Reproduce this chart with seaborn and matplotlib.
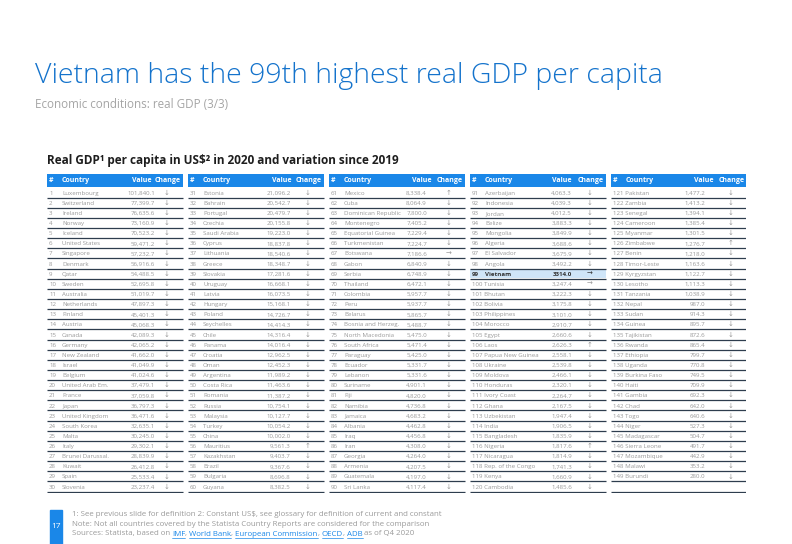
import matplotlib
matplotlib.use("Agg")
import matplotlib.pyplot as plt
from matplotlib.patches import Rectangle
from matplotlib.lines import Line2D
import pandas as pd
import seaborn as sns

# ---- data ----
countries = [
    "Luxembourg", "Switzerland", "Ireland", "Norway", "Iceland", "United States",
    "Singapore", "Denmark", "Qatar", "Sweden", "Australia", "Netherlands",
    "Finland", "Austria", "Canada", "Germany", "New Zealand", "Israel",
    "Belgium", "United Arab Em.", "France", "Japan", "United Kingdom", "South Korea",
    "Malta", "Italy", "Brunei Darussal.", "Kuwait", "Spain", "Slovenia",
    "Estonia", "Bahrain", "Portugal", "Czechia", "Saudi Arabia", "Cyprus",
    "Lithuania", "Greece", "Slovakia", "Uruguay", "Latvia", "Hungary",
    "Poland", "Seychelles", "Chile", "Panama", "Croatia", "Oman",
    "Argentina", "Costa Rica", "Romania", "Russia", "Malaysia", "Turkey",
    "China", "Mauritius", "Kazakhstan", "Brazil", "Bulgaria", "Guyana",
    "Mexico", "Cuba", "Dominican Republic", "Montenegro", "Equatorial Guinea", "Turkmenistan",
    "Botswana", "Gabon", "Serbia", "Thailand", "Colombia", "Peru",
    "Belarus", "Bosnia and Herzeg.", "North Macedonia", "South Africa", "Paraguay", "Ecuador",
    "Lebanon", "Suriname", "Fiji", "Namibia", "Jamaica", "Albania",
    "Iraq", "Iran", "Georgia", "Armenia", "Guatemala", "Sri Lanka",
    "Azerbaijan", "Indonesia", "Jordan", "Belize", "Mongolia", "Algeria",
    "El Salvador", "Angola", "Vietnam", "Tunisia", "Bhutan", "Bolivia",
    "Philippines", "Morocco", "Egypt", "Laos", "Papua New Guinea", "Ukraine",
    "Moldova", "Honduras", "Ivory Coast", "Ghana", "Uzbekistan", "India",
    "Bangladesh", "Nigeria", "Nicaragua", "Rep. of the Congo", "Kenya", "Cambodia",
    "Pakistan", "Zambia", "Senegal", "Cameroon", "Myanmar", "Zimbabwe",
    "Benin", "Timor-Leste", "Kyrgyzstan", "Lesotho", "Tanzania", "Nepal",
    "Sudan", "Guinea", "Tajikistan", "Rwanda", "Ethiopia", "Uganda",
    "Burkina Faso", "Haiti", "Gambia", "Chad", "Togo", "Niger",
    "Madagascar", "Sierra Leone", "Mozambique", "Malawi", "Burundi",
]

values = [
    101840.1, 77399.7, 76635.6, 73160.9, 70523.2, 59471.2, 57232.7, 56916.6, 54488.5, 52695.8,
    51019.7, 47897.3, 45401.3, 45068.3, 42089.3, 42065.2, 41662.0, 41049.9, 41024.6, 37479.1,
    37059.8, 36797.3, 36471.6, 32635.1, 30245.0, 29302.1, 28839.9, 26412.8, 25533.4, 23237.4,
    21096.2, 20542.7, 20479.7, 20155.8, 19223.0, 18837.8, 18540.6, 18348.7, 17281.6, 16668.1,
    16073.5, 15168.1, 14726.7, 14414.3, 14316.4, 14016.4, 12962.5, 12452.3, 11989.2, 11463.6,
    11387.2, 10754.1, 10127.7, 10054.2, 10002.0, 9561.3, 9403.7, 9367.6, 8696.8, 8382.5,
    8338.4, 8064.9, 7800.0, 7405.2, 7229.4, 7224.7, 7186.6, 6840.9, 6748.9, 6472.1,
    5957.7, 5937.7, 5865.7, 5488.7, 5475.0, 5471.4, 5425.0, 5331.7, 5331.6, 4901.1,
    4820.0, 4736.8, 4683.2, 4462.8, 4456.8, 4308.0, 4264.0, 4207.5, 4197.0, 4117.4,
    4063.3, 4039.3, 4012.5, 3883.3, 3849.9, 3688.6, 3675.9, 3492.2, 3314.0, 3247.4,
    3222.3, 3175.8, 3101.0, 2910.7, 2660.6, 2626.3, 2558.1, 2539.8, 2466.1, 2320.1,
    2264.7, 2167.5, 1947.4, 1906.5, 1835.9, 1817.6, 1814.9, 1741.3, 1660.9, 1485.6,
    1477.2, 1413.2, 1394.1, 1385.4, 1301.5, 1276.7, 1218.0, 1163.6, 1122.7, 1113.3,
    1038.9, 987.0, 914.3, 895.7, 872.6, 865.4, 799.7, 770.8, 749.5, 709.9,
    692.3, 642.0, 640.6, 527.3, 504.7, 491.7, 442.9, 353.2, 280.0,
]

# d = down, u = up, f = flat (one letter per country, 30 per column)
changes = ("dddddddddddddddddddddddddddddd"
           "dddddddddddddddddddddddddudddd"
           "udddddfddddddddddddddddddddddd"
           "ddddddddffdddddudddddddddudddd"
           "ddddduddddddddddddddddddddddd")

highlight = "Vietnam"
arrows = {"d": "\u2193", "u": "\u2191", "f": "\u2192"}

df = pd.DataFrame({"rank": range(1, len(countries) + 1), "country": countries,
                   "value": values, "change": list(changes)})
df["group"] = (df["rank"] - 1) // 30
df["row"] = (df["rank"] - 1) % 30

# ---- style ----
sns.set_style("white")
plt.rcParams["font.family"] = ["Open Sans", "DejaVu Sans"]

blue = "#1a87e8"
grey = "#9a9a9a"

W, H = 792, 544
fig = plt.figure(figsize=(W / 100, H / 100), dpi=100)
fx = lambda x: x / W
fy = lambda y: 1 - y / H

# titles
fig.text(fx(35), fy(76), "Vietnam has the 99th highest real GDP per capita",
         fontsize=20.5, color="#1473cc", fontweight="light", va="center", ha="left")
fig.text(fx(35), fy(104), "Economic conditions: real GDP (3/3)",
         fontsize=8.4, color="#a5a5a5", va="center", ha="left")
fig.text(fx(47), fy(160), "Real GDP\u00b9 per capita in US$\u00b2 in 2020 and variation since 2019",
         fontsize=8.5, color="#1e1e1e", fontweight="bold", va="center", ha="left")

# ---- table ----
ax = fig.add_axes([fx(47), fy(493), (746 - 47) / W, (493 - 174) / H])
ax.set_xlim(0, 699)
ax.set_ylim(319, 0)
ax.axis("off")

group_pitch, group_w = 141, 136
head_h, row0, pitch = 13, 14, 10.14
value_col_x = [108, 103, 98, 102, 94]
value_head_x = [105, 103, 102, 102, 102]
change_col_x = 120
row_fs, head_fs = 4.4, 5

for g in range(5):
    x0 = g * group_pitch
    ax.add_patch(Rectangle((x0, 0), group_w, head_h, color=blue, lw=0))
    hy = head_h / 2
    hk = dict(color="white", fontsize=head_fs, fontweight="bold", va="center")
    ax.text(x0 + 2, hy, "#", **hk)
    ax.text(x0 + 15, hy, "Country", **hk)
    ax.text(x0 + value_head_x[g], hy, "Value", ha="right", **hk)
    ax.text(x0 + 108, hy, "Change", ha="left", **hk)
    for r in range(30):
        yl = row0 + pitch * (r + 1) - 0.6
        ax.plot([x0, x0 + group_w], [yl, yl], color="#2e3d4e", lw=0.9, solid_capstyle="butt")

for _, d in df.iterrows():
    x0 = d["group"] * group_pitch
    yc = row0 + pitch * (d["row"] + 0.5)
    hl = d["country"] == highlight
    if hl:
        ax.add_patch(Rectangle((x0, row0 + pitch * d["row"]), group_w, pitch - 1,
                               color="#cfe5f8", lw=0, zorder=0))
    col = "#333333" if hl else grey
    fw = "bold" if hl else "normal"
    kw = dict(fontsize=row_fs, color=col, fontweight=fw, va="center")
    if d["rank"] < 100:
        ax.text(x0 + 2, yc, str(d["rank"]), **kw)
        ax.text(x0 + 15, yc, d["country"], **kw)
    else:
        ax.text(x0 + 2, yc, f"{d['rank']} {d['country']}", **kw)
    label = f"{d['value']:.1f}" if hl else f"{d['value']:,.1f}"
    ax.text(x0 + value_col_x[d["group"]], yc, label, ha="right", **kw)
    ax.text(x0 + change_col_x, yc, arrows[d["change"]], ha="center",
            fontsize=row_fs + 0.6, color=col, va="center")

# ---- footer ----
fig.patches.append(Rectangle((fx(50), fy(544)), 12 / W, 34 / H, color=blue,
                             transform=fig.transFigure, figure=fig))
fig.text(fx(56), fy(527), "17", color="white", fontsize=6, ha="center", va="center")

foot_fs = 5.65
fig.text(fx(72), fy(514), "1: See previous slide for definition 2: Constant US$, see glossary for "
         "definition of current and constant", fontsize=foot_fs, color=grey, va="center")
fig.text(fx(72), fy(524), "Note: Not all countries covered by the Statista Country Reports are "
         "considered for the comparison", fontsize=foot_fs, color=grey, va="center")

segments = [("Sources: Statista, based on ", False), ("IMF", True), (", ", False),
            ("World Bank", True), (", ", False), ("European Commission", True), (", ", False),
            ("OECD", True), (", ", False), ("ADB", True), (" as of Q4 2020", False)]
renderer = fig.canvas.get_renderer()
xpos = fx(72)
for txt, link in segments:
    t = fig.text(xpos, fy(534), txt, fontsize=foot_fs, color="#1a87e8" if link else grey,
                 va="center")
    bb = t.get_window_extent(renderer)
    if link:
        yline = (bb.y0 - 0.3) / H
        fig.add_artist(Line2D([bb.x0 / W, bb.x1 / W], [yline, yline], color="#1a87e8",
                              lw=0.5, transform=fig.transFigure))
    xpos = bb.x1 / W

fig.savefig("out.png", dpi=100, facecolor="white")
